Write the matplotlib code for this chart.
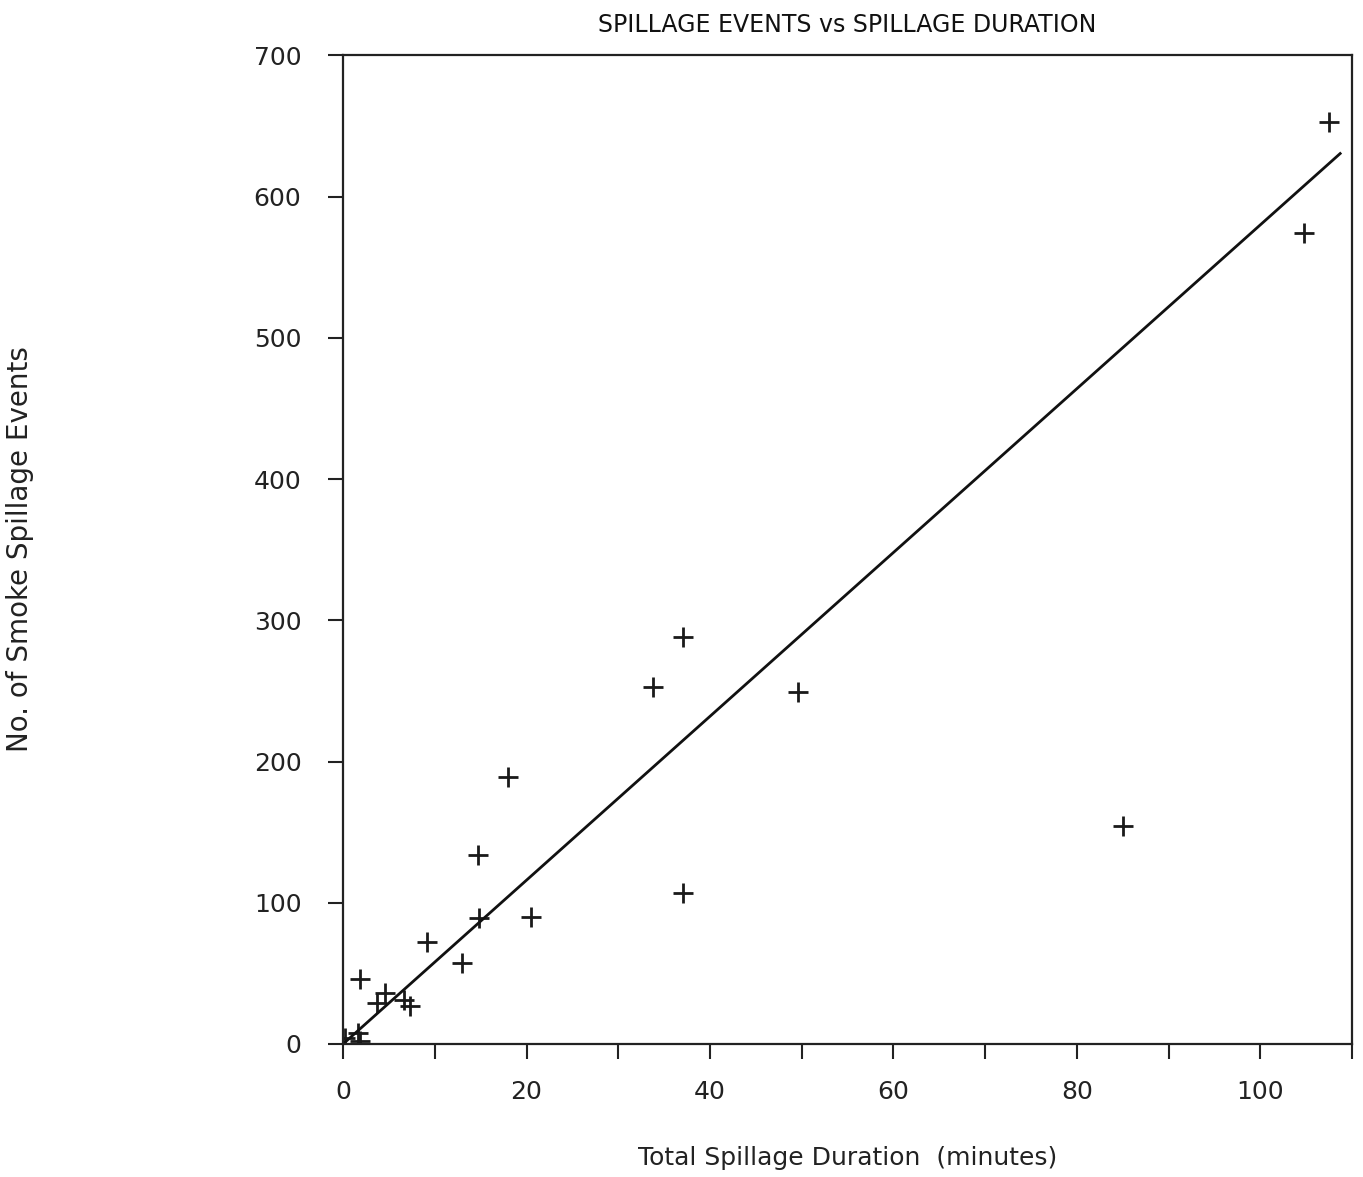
import numpy as np
import matplotlib.pyplot as plt

# spillage data
duration = [107.5, 104.8, 85.0, 49.6, 37.1, 33.8, 37.1, 18.0, 14.7, 14.8, 20.5,
            9.2, 13.0, 1.8, 4.6, 3.7, 6.6, 7.3, 0.2, 1.6, 1.8]
events = [653, 574, 154, 249, 288, 253, 107, 189, 134, 89, 90,
          72, 57, 46, 36, 29, 31, 27, 4, 8, 2]

# fitted line through origin
fit_slope = 5.8
fit_x = [0, 108.7]

x_major = [0, 20, 40, 60, 80, 100]
x_minor = [10, 30, 50, 70, 90, 110]
y_major = [0, 100, 200, 300, 400, 500, 600, 700]

plt.rcParams['font.family'] = 'DejaVu Sans'

fig = plt.figure(figsize=(13.63, 11.77), dpi=100)
ax = fig.add_axes([0.2517, 0.113, 0.7403, 0.84])

ax.plot(duration, events, linestyle='none', marker='+', markersize=15,
        markeredgewidth=2, color='#1a1a1a')
ax.plot(fit_x, [fit_slope * v for v in fit_x], color='#111111', linewidth=2)

ax.set_xlim(0, 110)
ax.set_ylim(0, 700)
ax.set_xticks(x_major)
ax.set_xticks(x_minor, minor=True)
ax.set_yticks(y_major)

for s in ax.spines.values():
    s.set_linewidth(1.6)
    s.set_color('#222222')

ax.tick_params(axis='x', which='both', direction='out', length=11, width=1.5,
               pad=15, labelsize=18, colors='#222222')
ax.tick_params(axis='y', direction='out', length=11, width=1.5,
               pad=19, labelsize=18, colors='#222222')

ax.set_title('SPILLAGE EVENTS vs SPILLAGE DURATION', fontsize=17, pad=17,
             color='#111111')
ax.set_xlabel('Total Spillage Duration  (minutes)', fontsize=18, labelpad=30,
              color='#222222')
fig.text(20 / 1363, 0.5335, 'No. of Smoke Spillage Events', rotation=90,
         ha='center', va='center', fontsize=20, color='#222222')

fig.savefig('out.png', dpi=100, facecolor='white')
